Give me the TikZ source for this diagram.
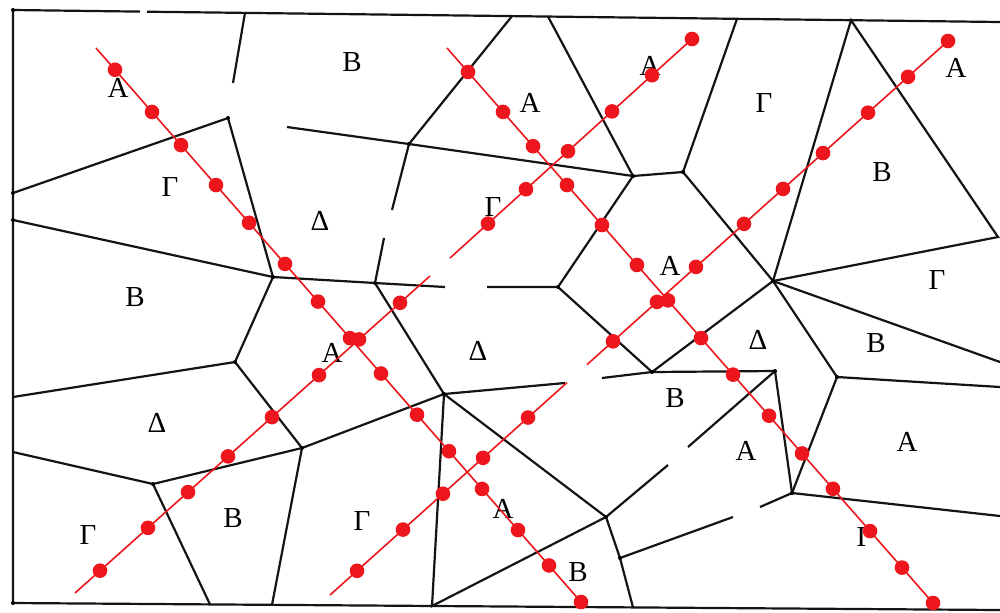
\documentclass[tikz,border=0pt]{standalone}
\usepackage{fontspec}
\setmainfont{Liberation Serif}
\definecolor{myred}{RGB}{236,22,28}
\begin{document}
\begin{tikzpicture}[x=0.5pt,y=-0.5pt,
  edge/.style={line width=1.1pt,draw=black!92},
  redln/.style={line width=0.8pt,draw=myred},
  rd/.style={circle,fill=myred,inner sep=0pt,minimum size=7.3pt},
  vx/.style={circle,fill=black,inner sep=0pt,minimum size=2pt},
  lbl/.style={font=\fontsize{14.5}{14.5}\selectfont,inner sep=0pt}]
\useasboundingbox[fill=white] (0,0) rectangle (1000,612);
% frame
\coordinate (TL) at (13,10); \coordinate (TR) at (1000,22);
\coordinate (BL) at (13,603); \coordinate (BR) at (1000,610);
\coordinate (G1) at (140,11.6); \coordinate (G2) at (147,11.7);
\draw[edge] (BR) -- (BL) -- (TL) -- (G1);
\draw[edge] (G2) -- (TR);
% vertices
\coordinate (P1) at (228,118);
\coordinate (P2) at (273,277);
\coordinate (P3) at (409,144);
\coordinate (P4) at (633,176);
\coordinate (P5) at (375,283);
\coordinate (P6) at (558,287);
\coordinate (P7) at (683,172);
\coordinate (P8) at (773,281);
\coordinate (P9) at (652,372);
\coordinate (P10) at (775,371);
\coordinate (P11) at (792,493);
\coordinate (P12) at (837,377);
\coordinate (P13) at (620,558);
\coordinate (P14) at (606,517);
\coordinate (P15) at (444,394);
\coordinate (P16) at (302,448);
\coordinate (P17) at (235,362);
\coordinate (P18) at (153,484);
% border points
\coordinate (L1) at (13,193); \coordinate (L2) at (13,220);
\coordinate (L3) at (13,397); \coordinate (L4) at (13,452);
\coordinate (T1) at (245,12.8); \coordinate (T2) at (512,16.1);
\coordinate (T3) at (548,16.5); \coordinate (T4) at (737,18.8);
\coordinate (T5) at (851,20.2);
\coordinate (E1) at (998,237); \coordinate (E2) at (1000,362);
\coordinate (E3) at (1000,387); \coordinate (E4) at (1000,516);
\coordinate (B1) at (210,604.4); \coordinate (B2) at (272,604.8);
\coordinate (B3) at (432,606); \coordinate (B4) at (633,607.4);
% dangling ends
\coordinate (D1) at (233,83);
\coordinate (D2) at (287,127);
\coordinate (D3) at (392,210);
\coordinate (D4) at (384,238);
\coordinate (D5) at (445,287);
\coordinate (D6) at (487,287);
\coordinate (D7) at (602,378);
\coordinate (D8) at (688,447);
\coordinate (D9) at (760,507);
\coordinate (D10) at (733,517);
\coordinate (D11) at (668,465);
\coordinate (D12) at (565,383);
% edges
\draw[edge] (T1) -- (D1);
\draw[edge] (L1) -- (P1) -- (P2) -- (L2);
\draw[edge] (P2) -- (P5);
\draw[edge] (P2) -- (P17) -- (L3);
\draw[edge] (D2) -- (P3) -- (T2);
\draw[edge] (P3) -- (D3);
\draw[edge] (D4) -- (P5);
\draw[edge] (P3) -- (P4) -- (T3);
\draw[edge] (P4) -- (P6);
\draw[edge] (P4) -- (P7) -- (T4);
\draw[edge] (P5) -- (D5);
\draw[edge] (D6) -- (P6) -- (P9);
\draw[edge] (P5) -- (P15);
\draw[edge] (P7) -- (P8) -- (T5) -- (E1) -- (P8);
\draw[edge] (P8) -- (E2);
\draw[edge] (P8) -- (P12) -- (E3);
\draw[edge] (P8) -- (P9);
\draw[edge] (D7) -- (P9) -- (P10) -- (P11);
\draw[edge] (P10) -- (D8);
\draw[edge] (P11) -- (P12);
\draw[edge] (P11) -- (E4);
\draw[edge] (P11) -- (D9);
\draw[edge] (D10) -- (P13) -- (P14) -- (D11);
\draw[edge] (P13) -- (B4);
\draw[edge] (P14) -- (P15) -- (D12);
\draw[edge] (P14) -- (B3) -- (P15);
\draw[edge] (P15) -- (P16) -- (P17);
\draw[edge] (P16) -- (P18) -- (L4);
\draw[edge] (P16) -- (B2);
\draw[edge] (P18) -- (B1);
\foreach \v in {P1,P2,P3,P4,P5,P6,P7,P8,P9,P10,P11,P12,P13,P14,P15,P16,P17,P18,L1,L2,TL,BL}
  \node[vx] at (\v) {};
% labels
\node[lbl] (a1) at (118,88) {A};
\node[lbl] (b1) at (352,62) {B};
\node[lbl] (a2) at (530,103) {A};
\node[lbl] (a3) at (650,66) {A};
\node[lbl] (g1) at (764,103) {Γ};
\node[lbl] (a4) at (956,68) {A};
\node[lbl] (g2) at (170,187) {Γ};
\node[lbl] (d1) at (320,221) {Δ};
\node[lbl] (g3) at (493,207) {Γ};
\node[lbl] (b2) at (882,172) {B};
\node[lbl] (b3) at (135,297) {B};
\node[lbl] (a5) at (670,266) {A};
\node[lbl] (g4) at (937,280) {Γ};
\node[lbl] (a6) at (332,353) {A};
\node[lbl] (d2) at (478,351) {Δ};
\node[lbl] (d3) at (758,340) {Δ};
\node[lbl] (b4) at (876,343) {B};
\node[lbl] (d4) at (157,423) {Δ};
\node[lbl] (b5) at (675,398) {B};
\node[lbl] (a7) at (746,451) {A};
\node[lbl] (a8) at (907,442) {A};
\node[lbl] (g5) at (88,535) {Γ};
\node[lbl] (b6) at (233,518) {B};
\node[lbl] (g6) at (362,521) {Γ};
\node[lbl] (a9) at (503,509) {A};
\node[lbl] (b7) at (578,572) {B};
\node[lbl] (g7) at (865,537) {Γ};
% red line 1
\coordinate (R1a) at (96,48); \coordinate (R1b) at (581,602);
\draw[redln] (R1a) -- (R1b)
  \foreach \p [count=\i] in {0.0392,0.1155,0.1753,0.2474,0.3155,0.3897,0.4577,0.5237,0.5876,0.6619,0.7278,0.7959,0.8701,0.9340,1.0}
  {node[rd,pos=\p] (ra\i) {}};
% red line 2
\coordinate (R2a) at (75,593); \coordinate (R2b) at (430,276);
\draw[redln] (R2a) -- (R2b)
  \foreach \p [count=\i] in {0.0704,0.2056,0.3183,0.4310,0.5549,0.6873,0.8,0.9155}
  {node[rd,pos=\p] (rb\i) {}};
% red line 3
\coordinate (R3a) at (450,258); \coordinate (R3b) at (692,39);
\draw[redln] (R3a) -- (R3b)
  \foreach \p [count=\i] in {0.157,0.314,0.4876,0.6694,0.8347,1.0}
  {node[rd,pos=\p] (rc\i) {}};
% red line 4 (with gap)
\coordinate (R4a) at (330,595); \coordinate (R4b) at (948,41);
\coordinate (R4g1) at (567,382.6); \coordinate (R4g2) at (587,364.6);
\draw[redln] (R4a) -- (R4g1);
\draw[redln] (R4g2) -- (R4b);
\path (R4a) -- (R4b)
  \foreach \p [count=\i] in {0.0437,0.1181,0.1828,0.2476,0.3204,0.4579,0.5291,0.5922,0.6699,0.7330,0.7977,0.8706,0.9353,1.0}
  {node[rd,pos=\p] (rd\i) {}};
% red line 5
\coordinate (R5a) at (447,48); \coordinate (R5b) at (933,603);
\draw[redln] (R5a) -- (R5b)
  \foreach \p [count=\i] in {0.0432,0.1152,0.1770,0.2469,0.3189,0.3909,0.4547,0.5226,0.5885,0.6626,0.7305,0.7942,0.8704,0.9362,1.0}
  {node[rd,pos=\p] (re\i) {}};
\end{tikzpicture}
\end{document}
